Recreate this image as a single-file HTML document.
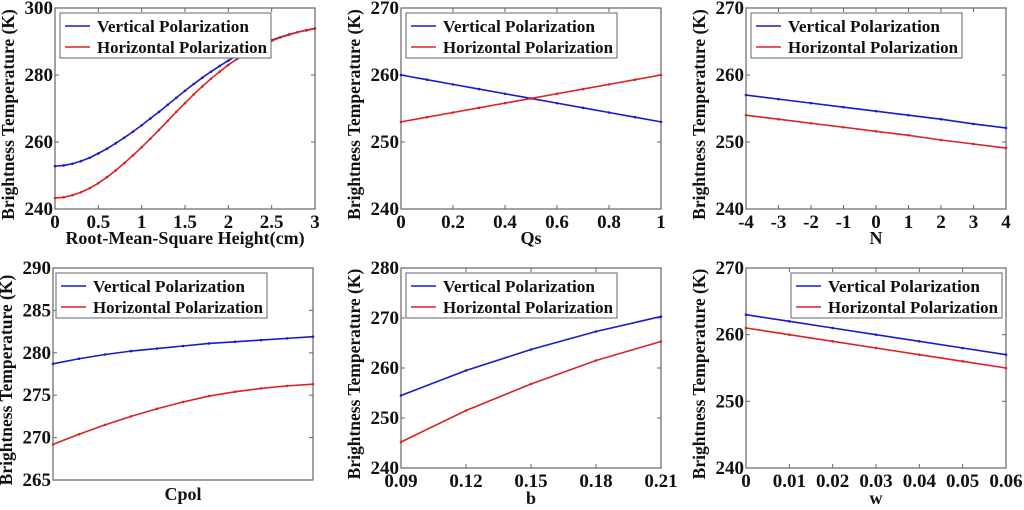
<!DOCTYPE html>
<html><head><meta charset="utf-8"><style>
body{margin:0;background:#fff;}
svg{display:block;}
</style></head><body>
<svg id="fig" width="1024" height="510" viewBox="0 0 1024 510" font-family="'Liberation Serif', 'DejaVu Serif', serif" font-weight="bold"></svg>
<script>
const p1X=[0,0.1,0.2,0.3,0.4,0.5,0.6,0.7,0.8,0.9,1,1.1,1.2,1.3,1.4,1.5,1.6,1.7,1.8,1.9,2,2.1,2.2,2.3,2.4,2.5,2.6,2.7,2.8,2.9,3];
const p1V=[252.8,253,253.5,254.3,255.3,256.6,258,259.6,261.3,263.1,265,267,269,271.1,273.2,275.3,277.3,279.2,281,282.7,284.3,285.8,287.1,288.3,289.4,290.4,291.3,292.1,292.8,293.4,293.9];
const p1H=[243.3,243.5,244.1,245,246.2,247.7,249.5,251.5,253.7,256,258.4,261,263.6,266.3,269,271.6,274.2,276.6,278.9,281,283,284.8,286.4,287.8,289.1,290.2,291.2,292,292.8,293.3,293.8];
const p1XT=["0","0.5","1","1.5","2","2.5","3"];
const p1YT=["240","260","280","300"];
const p2X=[0,0.1,0.2,0.3,0.4,0.5,0.6,0.7,0.8,0.9,1];
const p2V=[260,259.3,258.6,257.9,257.2,256.5,255.8,255.1,254.4,253.7,253];
const p2H=[253,253.7,254.4,255.1,255.8,256.5,257.2,257.9,258.6,259.3,260];
const p2XT=["0","0.2","0.4","0.6","0.8","1"];
const p2YT=["240","250","260","270"];
const p3X=[-4,-3,-2,-1,0,1,2,3,4];
const p3V=[257,256.4,255.8,255.2,254.6,254,253.4,252.7,252.1];
const p3H=[254,253.4,252.8,252.2,251.6,251,250.3,249.7,249.1];
const p3XT=["-4","-3","-2","-1","0","1","2","3","4"];
const p3YT=["240","250","260","270"];
const p4X=[0,1,2,3,4,5,6,7,8,9,10];
const p4V=[278.7,279.3,279.8,280.2,280.5,280.8,281.1,281.3,281.5,281.7,281.9];
const p4H=[269.2,270.4,271.5,272.5,273.4,274.2,274.9,275.4,275.8,276.1,276.3];
const p4XT=[];
const p4YT=["265","270","275","280","285","290"];
const p5X=[0.09,0.12,0.15,0.18,0.21];
const p5V=[254.5,259.5,263.7,267.3,270.3];
const p5H=[245.2,251.5,256.8,261.5,265.3];
const p5XT=["0.09","0.12","0.15","0.18","0.21"];
const p5YT=["240","250","260","270","280"];
const p6X=[0,0.01,0.02,0.03,0.04,0.05,0.06];
const p6V=[263,262,261,260,259,258,257];
const p6H=[261,260,259,258,257,256,255];
const p6XT=["0","0.01","0.02","0.03","0.04","0.05","0.06"];
const p6YT=["240","250","260","270"];

const NS="http://www.w3.org/2000/svg";
const svg=document.getElementById('fig');
const FF="Liberation Serif, DejaVu Serif, serif";
function mk(tag,attrs,parent){const e=document.createElementNS(NS,tag);for(const k in attrs)e.setAttribute(k,attrs[k]);if(tag==='text'){e.setAttribute('font-family',FF);e.setAttribute('font-weight','bold');e.setAttribute('fill','#111');}(parent||svg).appendChild(e);return e;}

function panel(id,box,xs,vs,hs,xt,yt,xlabel,xlabelY,legendX,xmin,xmax,ymin,ymax){
  const g=mk('g',{});
  
  
  const [L,T,R,B]=box;
  const sx=v=>L+(v-xmin)/(xmax-xmin)*(R-L);
  const sy=v=>B-(v-ymin)/(ymax-ymin)*(B-T);
  const fr=mk('rect',{x:L,y:T,width:R-L,height:B-T,fill:'#fff',stroke:'#666','stroke-width':1.2},g);
  
  
  xt.forEach(t=>{const x=sx(parseFloat(t));
    mk('line',{x1:x,y1:B,x2:x,y2:B-4,stroke:'#666'},g);
    mk('line',{x1:x,y1:T,x2:x,y2:T+4,stroke:'#666'},g);
    const tx=mk('text',{x:x,y:B+19,'text-anchor':'middle','font-size':19},g);tx.textContent=t;
    
    
  });
  yt.forEach(t=>{const y=sy(parseFloat(t));
    mk('line',{x1:L,y1:y,x2:L+4,y2:y,stroke:'#666'},g);
    mk('line',{x1:R,y1:y,x2:R-4,y2:y,stroke:'#666'},g);
    const tx=mk('text',{x:L-2,y:y+6,'text-anchor':'end','font-size':19},g);tx.textContent=t;
    
    
  });
  [[vs,'#1a1acc','vertical-series'],[hs,'#dd2222','horizontal-series']].forEach(([arr,c,n])=>{
    const pts=arr.map((v,i)=>sx(xs[i])+','+sy(v)).join(' ');
    const pl=mk('polyline',{points:pts,fill:'none',stroke:c,'stroke-width':1.6},g);
    
    
    arr.forEach((v,i)=>{const d=mk('circle',{cx:sx(xs[i]),cy:sy(v),r:1.3,fill:c},g);
      
      });
  });
  const xl=mk('text',{x:(L+R)/2,y:xlabelY,'text-anchor':'middle','font-size':18},g);xl.textContent=xlabel;
  
  
  const yl=mk('text',{x:0,y:0,'text-anchor':'middle','font-size':17.5,transform:`translate(${L-41},${(T+B)/2+6}) rotate(-90)`},g);yl.textContent='Brightness Temperature (K)';
  
  
  const lg=mk('g',{},g);
  
  
  const ly=T+5;
  mk('rect',{x:legendX,y:ly,width:211,height:45,fill:'#fff',stroke:'#666','stroke-width':1},lg);
  [['Vertical Polarization','#1a1acc'],['Horizontal Polarization','#dd2222']].forEach(([t,c],i)=>{
    const yy=ly+13+i*21;
    mk('line',{x1:legendX+5,y1:yy,x2:legendX+30,y2:yy,stroke:c,'stroke-width':1.6},lg);
    const tx=mk('text',{x:legendX+37,y:yy+6,'font-size':17,textLength:170,lengthAdjust:'spacingAndGlyphs'},lg);tx.textContent=t;
    if(i===0){tx.setAttribute('textLength',152);}
    
    
  });
}
panel('panel-rms-height',[55,8,315,209],p1X,p1V,p1H,p1XT,p1YT,'Root-Mean-Square Height(cm)',244,60,0,3,240,300);
panel('panel-qs',[401,8,661,209],p2X,p2V,p2H,p2XT,p2YT,'Qs',244,406,0,1,240,270);
panel('panel-n',[746,8,1006,209],p3X,p3V,p3H,p3XT,p3YT,'N',244,751,-4,4,240,270);
panel('panel-cpol',[53,268,313,480],p4X,p4V,p4H,p4XT,p4YT,'Cpol',500,56,0,10,265,290);
panel('panel-b',[401,268,661,468],p5X,p5V,p5H,p5XT,p5YT,'b',504,406,0.09,0.21,240,280);
panel('panel-w',[746,268,1006,468],p6X,p6V,p6H,p6XT,p6YT,'w',504,791,0,0.06,240,270);
</script>
</body></html>
